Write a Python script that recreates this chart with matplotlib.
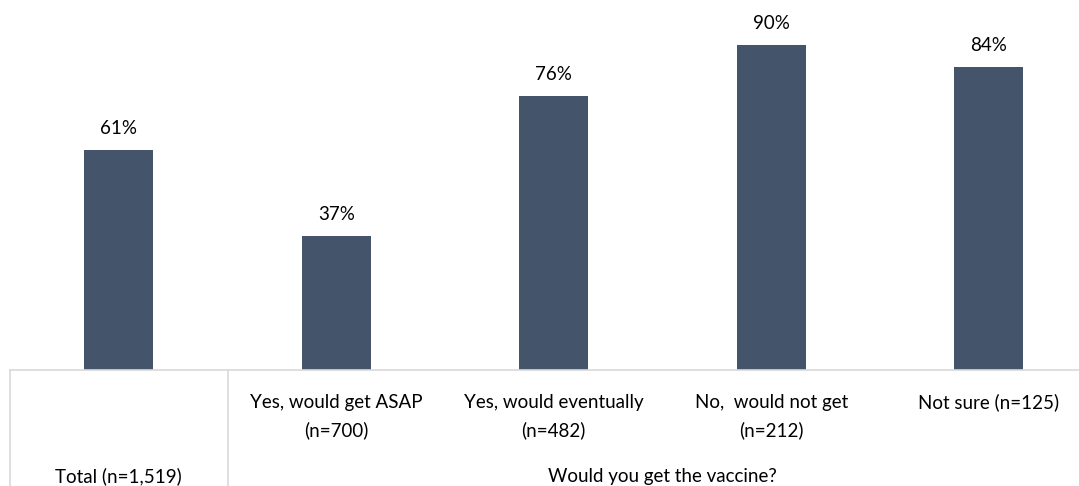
import matplotlib
matplotlib.use("Agg")
import matplotlib.pyplot as plt
from matplotlib.transforms import blended_transform_factory

categories = ["Total (n=1,519)", "Yes, would get ASAP\n(n=700)", "Yes, would eventually\n(n=482)",
              "No,  would not get\n(n=212)", "Not sure (n=125)"]
values = [61, 37, 76, 90, 84]
group_label = "Would you get the vaccine?"

plt.rcParams["font.family"] = ["Lato", "DejaVu Sans"]
W, H = 1079, 486
FS = 13.5
fig = plt.figure(figsize=(W / 100, H / 100), dpi=100)
ax = fig.add_axes([10 / W, (H - 370) / H, 5 * 217.5 / W, 361 / H])

x = list(range(len(values)))
bars = ax.bar(x, values, width=0.318, color="#44546A")
for xi, v in zip(x, values):
    ax.text(xi, v + 3.6, f"{v}%", ha="center", va="bottom", fontsize=FS, color="#000000")

ax.set_xlim(-0.5, len(values) - 0.5)
ax.set_ylim(0, 100)
ax.set_xticks([])
ax.set_yticks([])
for s in ["top", "right", "left"]:
    ax.spines[s].set_visible(False)
ax.spines["bottom"].set_color("#D9D9D9")
ax.spines["bottom"].set_linewidth(1.2)

tr = blended_transform_factory(ax.transData, fig.transFigure)
# inner-level category labels, one text per line
line_baselines = [408, 436]
for xi, lab in zip(x[1:], categories[1:]):
    for line, yb in zip(lab.split("\n"), line_baselines):
        ax.text(xi, 1 - yb / H, line, transform=tr, ha="center", va="baseline", fontsize=FS,
                color="#000000")
# outer-level labels
ax.text(0, 1 - 482 / H, categories[0], transform=tr, ha="center", va="baseline", fontsize=FS,
        color="#000000")
ax.text((1 + len(values) - 1) / 2, 1 - 482 / H, group_label, transform=tr, ha="center",
        va="baseline", fontsize=FS, color="#000000")
# category separators below the axis
for xs in [-0.5, 0.5, len(values) - 0.5]:
    ax.plot([xs, xs], [1 - 370 / H, 0], transform=tr, color="#D9D9D9", lw=1.2, clip_on=False)

fig.savefig("out.png", dpi=100)
